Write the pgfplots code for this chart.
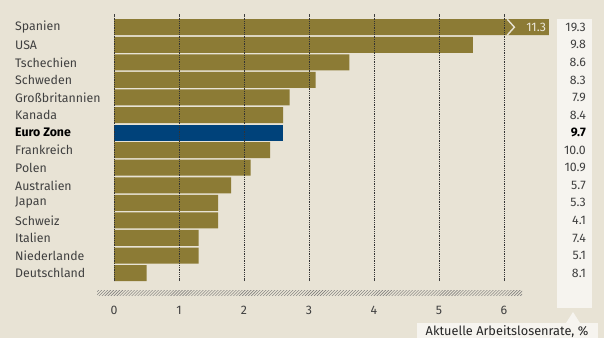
\documentclass[border=0pt]{standalone}
\usepackage{pgfplots}
\pgfplotsset{compat=1.18}
\usepackage{fontspec}
\setmainfont{Fira Sans}
\usetikzlibrary{patterns}
\definecolor{bg}{HTML}{E8E3D5}
\definecolor{gold}{HTML}{8C7B35}
\definecolor{navy}{HTML}{00427A}
\definecolor{txt}{HTML}{404040}
\definecolor{boxc}{HTML}{F6F4EF}
\begin{document}
\begin{tikzpicture}[x=1bp,y=-1bp,font=\fontsize{12.4}{14}\selectfont]
\fill[bg] (0,0) rectangle (604,338);
\path[use as bounding box] (0,0) rectangle (604,338);
\fill[boxc] (557,19) rectangle (592,308);
\fill[boxc] (566,323) -- (573,312) -- (580,323) -- cycle;
\fill[boxc] (417,323) rectangle (598,338);
\node[text=black!85, font=\fontsize{12.8}{14}\selectfont] at (507,331.5) {Aktuelle Arbeitslosenrate, \%};
\fill[pattern=north east lines, pattern color=black!55] (97,290) rectangle (522,295);
\begin{axis}[
  at={(114bp,-281bp)}, anchor=south west,
  scale only axis, width=455bp, height=267bp,
  xmin=0, xmax=7, ymin=-0.75, ymax=14.45, y dir=reverse,
  clip=false, axis on top,
  axis line style={draw=none},
  xtick={0,1,2,3,4,5,6}, ytick=\empty,
  xtick pos=both, tick align=inside, major tick length=2.5bp,
  tick style={black!75, line width=0.6pt},
  xmajorgrids, grid style={dash pattern=on 0.8pt off 1pt, black!80, line width=0.6pt},
  /pgf/number format/assume math mode=true,
  xticklabel style={text=txt, yshift=-22bp, font=\fontsize{12.4}{14}\selectfont},
  xbar, bar shift=0pt, bar width=16bp,
]
\addplot[fill=gold, draw=none] coordinates {
 (6.69,0) (5.52,1) (3.62,2) (3.1,3) (2.7,4) (2.6,5)
 (2.4,7) (2.1,8) (1.8,9) (1.6,10) (1.6,11) (1.3,12) (1.3,13) (0.5,14)};
\addplot[fill=navy, draw=none] coordinates {(2.6,6)};
\draw[bg, line width=1.4pt] (axis cs:6.05,-0.45) -- (axis cs:6.16,0) -- (axis cs:6.05,0.45);
\node[text=bg!90!white, anchor=east, inner sep=0pt] at (axis cs:6.65,0) {11.3};
\node[anchor=west,text=txt,inner sep=0pt] at (axis cs:-1.523,0) {Spanien};
\node[anchor=west,text=txt,inner sep=0pt] at (axis cs:-1.523,1) {USA};
\node[anchor=west,text=txt,inner sep=0pt] at (axis cs:-1.523,2) {Tschechien};
\node[anchor=west,text=txt,inner sep=0pt] at (axis cs:-1.523,3) {Schweden};
\node[anchor=west,text=txt,inner sep=0pt] at (axis cs:-1.523,4) {Großbritannien};
\node[anchor=west,text=txt,inner sep=0pt] at (axis cs:-1.523,5) {Kanada};
\node[anchor=west,text=black,inner sep=0pt] at (axis cs:-1.523,6) {\bfseries Euro Zone};
\node[anchor=west,text=txt,inner sep=0pt] at (axis cs:-1.523,7) {Frankreich};
\node[anchor=west,text=txt,inner sep=0pt] at (axis cs:-1.523,8) {Polen};
\node[anchor=west,text=txt,inner sep=0pt] at (axis cs:-1.523,9) {Australien};
\node[anchor=west,text=txt,inner sep=0pt] at (axis cs:-1.523,10) {Japan};
\node[anchor=west,text=txt,inner sep=0pt] at (axis cs:-1.523,11) {Schweiz};
\node[anchor=west,text=txt,inner sep=0pt] at (axis cs:-1.523,12) {Italien};
\node[anchor=west,text=txt,inner sep=0pt] at (axis cs:-1.523,13) {Niederlande};
\node[anchor=west,text=txt,inner sep=0pt] at (axis cs:-1.523,14) {Deutschland};
\node[anchor=east,text=txt,inner sep=0pt] at (axis cs:7.262,0) {19.3};
\node[anchor=east,text=txt,inner sep=0pt] at (axis cs:7.262,1) {9.8};
\node[anchor=east,text=txt,inner sep=0pt] at (axis cs:7.262,2) {8.6};
\node[anchor=east,text=txt,inner sep=0pt] at (axis cs:7.262,3) {8.3};
\node[anchor=east,text=txt,inner sep=0pt] at (axis cs:7.262,4) {7.9};
\node[anchor=east,text=txt,inner sep=0pt] at (axis cs:7.262,5) {8.4};
\node[anchor=east,text=black,inner sep=0pt] at (axis cs:7.262,6) {\bfseries 9.7};
\node[anchor=east,text=txt,inner sep=0pt] at (axis cs:7.262,7) {10.0};
\node[anchor=east,text=txt,inner sep=0pt] at (axis cs:7.262,8) {10.9};
\node[anchor=east,text=txt,inner sep=0pt] at (axis cs:7.262,9) {5.7};
\node[anchor=east,text=txt,inner sep=0pt] at (axis cs:7.262,10) {5.3};
\node[anchor=east,text=txt,inner sep=0pt] at (axis cs:7.262,11) {4.1};
\node[anchor=east,text=txt,inner sep=0pt] at (axis cs:7.262,12) {7.4};
\node[anchor=east,text=txt,inner sep=0pt] at (axis cs:7.262,13) {5.1};
\node[anchor=east,text=txt,inner sep=0pt] at (axis cs:7.262,14) {8.1};
\end{axis}
\end{tikzpicture}
\end{document}
